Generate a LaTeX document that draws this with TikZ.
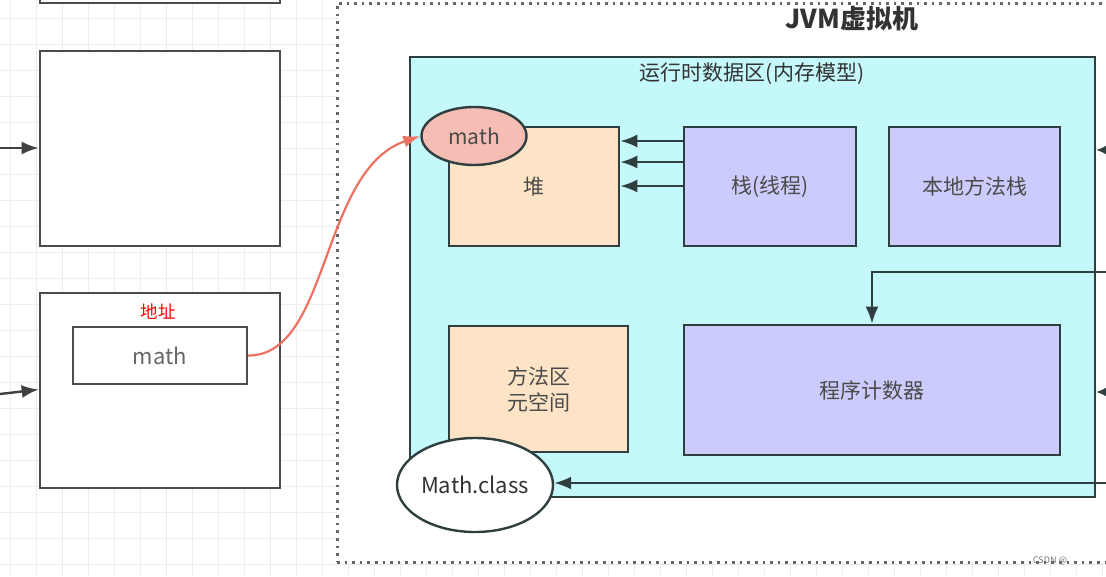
\documentclass[tikz,border=0pt]{standalone}
\usepackage{fontspec}
\setmainfont{Noto Sans CJK SC}
\usetikzlibrary{arrows.meta,calc,shapes.geometric}
\definecolor{cyanbg}{HTML}{C4F8FA}
\definecolor{peach}{HTML}{FDE4C6}
\definecolor{lav}{HTML}{CCCCFC}
\definecolor{dk}{HTML}{2F3F40}
\definecolor{redl}{HTML}{EE7262}
\definecolor{pinkf}{HTML}{F6BDB5}
\definecolor{txt}{HTML}{4A4A4A}
\definecolor{gridc}{HTML}{EDEDED}
\tikzset{
  wbox/.style={draw=black!70,line width=2.6pt,fill=white,rectangle,inner sep=0pt},
  mbox/.style={draw=dk,line width=2.6pt,rectangle,inner sep=0pt,text=txt,font=\fontsize{21}{26}\selectfont,align=center},
  ell/.style={draw=dk,line width=2.4pt,ellipse,inner sep=0pt,text=txt},
  arr/.style={draw=dk,line width=2.4pt,-{Latex[length=17pt,width=13pt]}},
  garr/.style={draw=black!75,line width=2.4pt,-{Latex[length=17pt,width=13pt]}},
}
\begin{document}
\begin{tikzpicture}[x=1pt,y=-1pt]
\useasboundingbox (0,0) rectangle (1106,576);
\clip (0,0) rectangle (1106,576);
\fill[white] (0,0) rectangle (1106,576);
% grid
\foreach \i in {0,...,43} {\draw[gridc,line width=0.9pt] ({10+26*\i},0) -- ({10+26*\i},576);}
\foreach \j in {0,...,22} {\draw[gridc,line width=0.9pt] (0,{18+26*\j}) -- (1106,{18+26*\j});}
% JVM container
\node[draw=black!60,fill=white,line width=3pt,dash pattern=on 2.6pt off 5pt,rectangle,inner sep=0pt,
      minimum width=783pt,minimum height=559pt] (jvm) at (728.5,282.5) {};
\node[font=\fontsize{26}{30}\selectfont\bfseries,text=black!80] (jvmt) at (852,19) {JVM虚拟机};
% left boxes
\node[wbox,minimum width=240pt,minimum height=100pt] (box1) at (160,-47) {};
\node[wbox,minimum width=240pt,minimum height=195pt] (box2) at (160,148.5) {};
\node[wbox,minimum width=240pt,minimum height=195pt] (box3) at (160,390.5) {};
\node[draw=black!70,line width=2.4pt,rectangle,inner sep=0pt,minimum width=174pt,minimum height=57pt,
      text=black!60,font=\fontsize{22}{26}\selectfont] (mathbox) at (160,355.5) {math};
\node[text=red,font=\fontsize{17.5}{20}\selectfont] (addr) at (158,312) {地址};
\coordinate (in2) at (0,148);
\coordinate (in3) at (0,394);
\draw[garr] (in2) -- (box2.west |- in2);
\draw[garr] (in3) -- ($(box3.west)+(0,-1)$);
% runtime data area
\node[draw=dk,fill=cyanbg,line width=2.6pt,rectangle,inner sep=0pt,minimum width=685pt,minimum height=440pt] (rt) at (752.5,277) {};
\node[font=\fontsize{21}{24}\selectfont,text=black!80] (rtt) at (752,74) {运行时数据区(内存模型)};
\node[mbox,fill=peach,minimum width=170pt,minimum height=119pt] (heap) at (534,186.5) {堆};
\node[mbox,fill=lav,minimum width=172pt,minimum height=119pt] (stack) at (770,186.5) {栈(线程)};
\node[mbox,fill=lav,minimum width=171pt,minimum height=119pt] (native) at (974.5,186.5) {本地方法栈};
\node[mbox,fill=lav,minimum width=376pt,minimum height=130pt] (pc) at (872,390) {程序计数器};
\node[mbox,fill=peach,minimum width=179pt,minimum height=126pt] (meth) at (538.5,389) {方法区\\元空间};
\node[ell,fill=pinkf,minimum width=105pt,minimum height=58pt,font=\fontsize{21}{24}\selectfont] (mathell) at (474,136) {math};
\node[ell,fill=white,minimum width=156pt,minimum height=94pt,font=\fontsize{22}{26}\selectfont,text=black!80] (mc) at (475,485) {Math.class};
% stack -> heap
\foreach \yy in {141,162,186} {
  \coordinate (s\yy) at (700,\yy);
  \draw[arr] (stack.west |- s\yy) -- (heap.east |- s\yy);
}
% arrows from the right
\coordinate (r1) at (1110,150);
\coordinate (r2) at (1106,272);
\coordinate (r4) at (1110,392);
\coordinate (r3) at (1106,483);
\coordinate (pcx) at (872,0);
\draw[draw=dk,line width=2.4pt,-{Latex[length=12pt,width=12pt]}] (r1) -- (rt.east |- r1);
\draw[draw=dk,line width=2.4pt,-{Latex[length=12pt,width=12pt]}] (r4) -- (rt.east |- r4);
\draw[arr] (r2) -| (pcx |- pc.north);
\draw[arr] (r3) -- (mc.east |- r3);
% address reference
\draw[redl,line width=2.2pt,-{Latex[length=17pt,width=12pt]}] (mathbox.east) .. controls (330,356) and (320,170) .. (mathell.west);
% watermark
\node[text=black!55,font=\fontsize{9}{10}\selectfont] (wm) at (1050,561) {CSDN @};
\end{tikzpicture}
\end{document}
